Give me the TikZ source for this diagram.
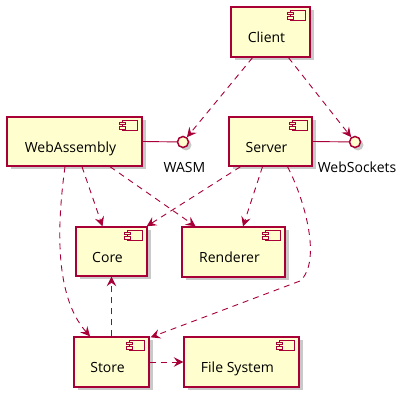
\documentclass[tikz,border=0pt]{standalone}
\usepackage{fontspec}
\setmainfont{Open Sans}
\usetikzlibrary{arrows.meta,shadows,calc}
\definecolor{pborder}{HTML}{A80036}
\definecolor{pfill}{HTML}{FEFECE}
\tikzset{
  comp/.style={draw=pborder, fill=pfill, line width=1.4pt, rectangle, inner sep=0pt,
    drop shadow={shadow xshift=3.5pt, shadow yshift=-3.5pt, opacity=0.3, fill=black!70}},
  iface/.style={draw=pborder, fill=pfill, line width=1.5pt, circle, minimum size=11pt, inner sep=0pt,
    drop shadow={shadow xshift=3pt, shadow yshift=-3pt, opacity=0.3, fill=black!70}},
  lbl/.style={anchor=base, inner sep=0pt, font=\fontsize{14}{16}\selectfont},
  dep/.style={draw=pborder, line width=0.9pt, dash pattern=on 6pt off 5pt,
    -{Stealth[length=9.5pt, width=9.5pt, inset=3.5pt]}},
  link/.style={draw=pborder, line width=0.9pt},
  iconbox/.style={draw=pborder, fill=pfill, line width=1.1pt}
}
\newcommand{\drawcompicon}[1]{%
  \draw[iconbox] ([xshift=-20pt,yshift=-4pt]#1.north east) rectangle ([xshift=-5pt,yshift=-14pt]#1.north east);
  \draw[iconbox] ([xshift=-23pt,yshift=-6pt]#1.north east) rectangle ([xshift=-17.5pt,yshift=-8.5pt]#1.north east);
  \draw[iconbox] ([xshift=-23pt,yshift=-10.5pt]#1.north east) rectangle ([xshift=-17.5pt,yshift=-13pt]#1.north east);
}
\begin{document}
\begin{tikzpicture}[x=1pt, y=-1pt]
\useasboundingbox (0,0) rectangle (408,404);
% components
\node[comp, minimum width=79pt, minimum height=50pt] (client) at (270.5,32) {};
\node[comp, minimum width=135pt, minimum height=49pt] (webasm) at (74.5,141.5) {};
\node[comp, minimum width=83pt, minimum height=49pt] (server) at (270.5,141.5) {};
\node[comp, minimum width=71pt, minimum height=49pt] (core) at (111.5,251.5) {};
\node[comp, minimum width=103pt, minimum height=50pt] (renderer) at (233.5,252) {};
\node[comp, minimum width=75pt, minimum height=50pt] (store) at (111.5,362) {};
\node[comp, minimum width=115pt, minimum height=50pt] (fs) at (241.5,362) {};
\foreach \n in {client,webasm,server,core,renderer,store,fs} {\drawcompicon{\n}}
% labels
\node[lbl] (tclient) at ([xshift=-4pt,yshift=-36pt]client.north) {Client};
\node[lbl] (twebasm) at ([xshift=-4pt,yshift=-36pt]webasm.north) {WebAssembly};
\node[lbl] (tserver) at ([xshift=-4pt,yshift=-36pt]server.north) {Server};
\node[lbl] (tcore) at ([xshift=-4pt,yshift=-36pt]core.north) {Core};
\node[lbl] (trenderer) at ([xshift=-4pt,yshift=-36pt]renderer.north) {Renderer};
\node[lbl] (tstore) at ([xshift=-4pt,yshift=-36pt]store.north) {Store};
\node[lbl] (tfs) at ([xshift=-4pt,yshift=-36pt]fs.north) {File System};
% interfaces
\node[iface] (wasm) at (183,142) {};
\node[iface] (ws) at (355,142) {};
\node[lbl] (twasm) at (184.5,173) {WASM};
\node[lbl] (tws) at (357,173) {WebSockets};
% links
\draw[link] (webasm.east) -- (wasm);
\draw[link] (server.east) -- (ws);
% dependencies
\draw[dep] ([xshift=-18pt]client.south) -- (wasm);
\draw[dep] ([xshift=18pt]client.south) -- (ws);
\draw[dep] ([xshift=7.5pt]webasm.south) -- ([xshift=-9pt]core.north);
\draw[dep] ([xshift=35.5pt]webasm.south) -- ([xshift=-38pt]renderer.north);
\draw[dep] ([xshift=-9.5pt]webasm.south) .. controls (55,240) and (58,300) .. ([xshift=-21.5pt]store.north);
\draw[dep] ([xshift=-30pt]server.south) -- ([xshift=-1pt]core.north east);
\draw[dep] ([xshift=-8pt]server.south) -- ([xshift=9.5pt]renderer.north);
\draw[dep] ([xshift=17pt]server.south) .. controls (305,200) and (322,262) .. (300,281) -- ([xshift=1pt,yshift=-1pt]store.north east);
\draw[dep] (store.north) -- (core.south);
\draw[dep] (store.east) -- (fs.west);
\end{tikzpicture}
\end{document}
